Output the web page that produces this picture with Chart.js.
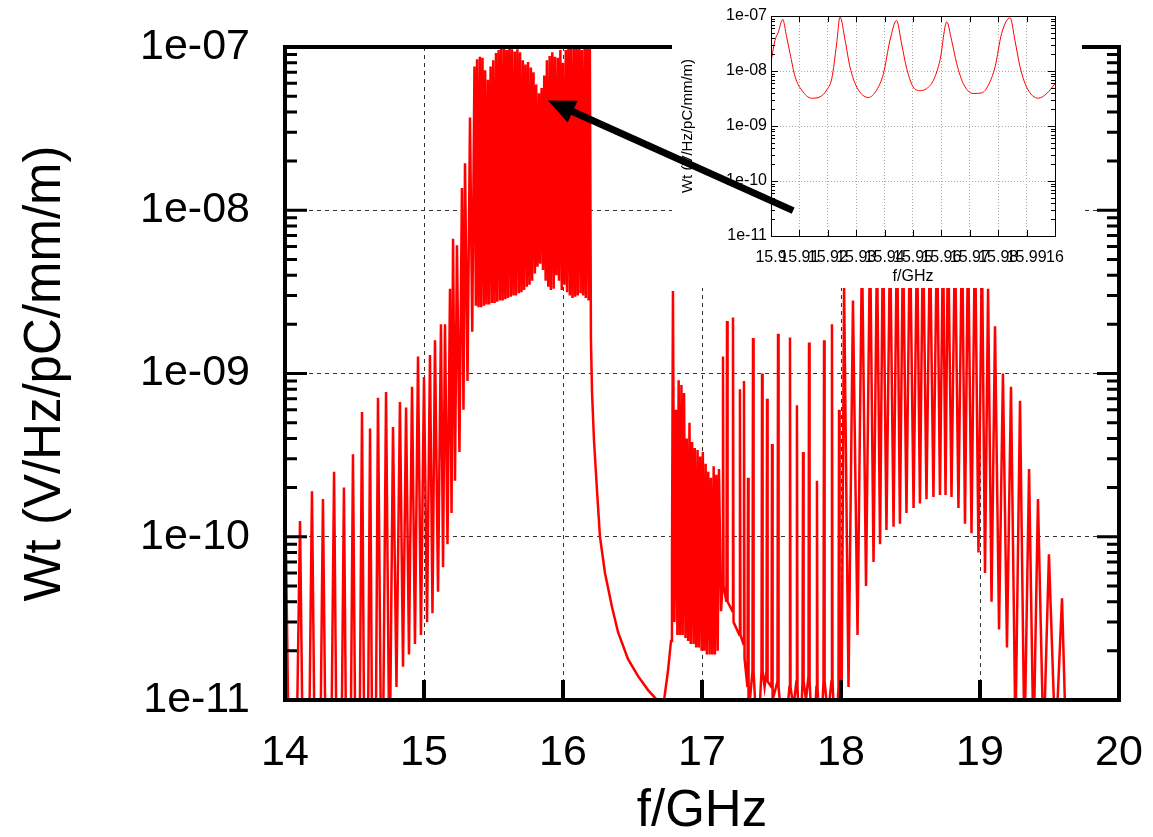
<!DOCTYPE html>
<html>
<head>
<meta charset="utf-8">
<script src="https://cdn.jsdelivr.net/npm/chart.js@4.4.1/dist/chart.umd.min.js"></script>
<style>
  html, body { margin: 0; padding: 0; background: #fff; }
  #wrap { position: relative; width: 1153px; height: 837px; overflow: hidden; }
  canvas { position: absolute; }
</style>
</head>
<body>
<div id="wrap">
  <canvas id="main" width="1153" height="837" style="left:0;top:0"></canvas>
  <canvas id="inset" width="410" height="288" style="left:672px;top:0"></canvas>
  <canvas id="arrow" width="1153" height="837" style="left:0;top:0"></canvas>
</div>
<script>
// [f/GHz, Wt] vertices, one list per part of the spectrum
const lowBand = [
  [14.000, 2.3e-10], [14.054, 1e-13], [14.108, 1.25e-10], [14.151, 1e-13],
  [14.194, 1.9e-10], [14.234, 1e-13], [14.273, 1.7e-10], [14.313, 1e-13],
  [14.353, 2.5e-10], [14.388, 1e-13], [14.424, 2.0e-10], [14.457, 1e-13],
  [14.489, 3.2e-10], [14.522, 1e-13], [14.554, 5.8e-10], [14.583, 1e-13],
  [14.612, 4.6e-10], [14.640, 1e-13], [14.669, 7.1e-10], [14.698, 1e-12],
  [14.727, 7.7e-10], [14.752, 3e-12], [14.777, 4.7e-10], [14.802, 1.2e-11],
  [14.827, 6.7e-10], [14.849, 1.6e-11], [14.871, 6.2e-10], [14.892, 1.9e-11],
  [14.914, 8.3e-10], [14.935, 2.2e-11], [14.957, 1.27e-9], [14.978, 2.5e-11],
  [15.000, 9.5e-10], [15.022, 3e-11], [15.043, 1.3e-9], [15.061, 3.4e-11],
  [15.079, 1.6e-9], [15.101, 4.6e-11], [15.122, 2.0e-9], [15.137, 6.5e-11],
  [15.151, 2.0e-9], [15.169, 9e-11], [15.187, 3.3e-9], [15.198, 1.4e-10],
  [15.209, 6.7e-9], [15.223, 2.2e-10], [15.237, 6.1e-9], [15.255, 3.3e-10],
  [15.273, 1.37e-8], [15.284, 6e-10], [15.295, 1.94e-8], [15.313, 9e-10],
  [15.331, 3.7e-8], [15.347, 1.8e-9]
];
const mainBand = [
  [15.363, 7.6e-8], [15.373, 2.6e-9], [15.382, 8.4e-8], [15.392, 2.55e-9],
  [15.402, 8.7e-8], [15.411, 2.55e-9], [15.421, 8.6e-8], [15.431, 2.6e-9],
  [15.440, 7.2e-8], [15.450, 2.65e-9], [15.460, 6.3e-8], [15.469, 2.65e-9],
  [15.479, 7.6e-8], [15.489, 2.7e-9], [15.498, 8.3e-8], [15.508, 2.7e-9],
  [15.518, 9.2e-8], [15.527, 2.75e-9], [15.537, 9.6e-8], [15.547, 2.8e-9],
  [15.556, 1.05e-7], [15.566, 2.8e-9], [15.576, 1.1e-7], [15.585, 2.85e-9],
  [15.595, 9.6e-8], [15.604, 2.9e-9], [15.614, 1.1e-7], [15.624, 2.95e-9],
  [15.633, 9.7e-8], [15.643, 3.0e-9], [15.653, 9.4e-8], [15.662, 3.0e-9],
  [15.672, 9.7e-8], [15.682, 3.1e-9], [15.691, 9.3e-8], [15.701, 3.15e-9],
  [15.711, 8.3e-8], [15.720, 3.25e-9], [15.730, 7.8e-8], [15.740, 3.4e-9],
  [15.749, 8.1e-8], [15.759, 3.5e-9], [15.769, 7.5e-8], [15.778, 3.7e-9],
  [15.788, 7.0e-8], [15.798, 4.1e-9], [15.807, 5.9e-8], [15.817, 4.5e-9],
  [15.827, 5.2e-8], [15.836, 4.7e-9], [15.846, 5.6e-8], [15.856, 4.3e-9],
  [15.865, 6.7e-8], [15.875, 3.7e-9], [15.884, 8.3e-8], [15.894, 3.4e-9],
  [15.904, 8.8e-8], [15.913, 3.25e-9], [15.923, 9.3e-8], [15.933, 3.3e-9],
  [15.942, 8.7e-8], [15.952, 4.0e-9], [15.962, 8.6e-8], [15.971, 3.7e-9],
  [15.981, 9.6e-8], [15.991, 3.25e-9], [16.000, 8.0e-8], [16.010, 3.5e-9],
  [16.020, 9.6e-8], [16.029, 3.15e-9], [16.039, 1.1e-7], [16.049, 3.0e-9],
  [16.058, 1.05e-7], [16.068, 2.9e-9], [16.078, 1.1e-7], [16.087, 2.95e-9],
  [16.097, 1.05e-7], [16.106, 3.0e-9], [16.116, 1.1e-7], [16.126, 3.1e-9],
  [16.135, 9.6e-8], [16.145, 3.0e-9], [16.155, 1.1e-7], [16.164, 2.9e-9],
  [16.174, 1.05e-7], [16.184, 2.8e-9], [16.193, 1.1e-7]
];
const decayBand = [
  [16.201, 1.6e-9], [16.209, 7.6e-10], [16.223, 3.9e-10], [16.245, 1.9e-10],
  [16.266, 1.0e-10], [16.302, 6.0e-11], [16.353, 3.7e-11], [16.396, 2.6e-11],
  [16.468, 1.78e-11], [16.540, 1.4e-11], [16.612, 1.15e-11], [16.676, 1.0e-11],
  [16.712, 8e-12], [16.755, 1.5e-11], [16.777, 2.3e-11], [16.784, 6.5e-11],
  [16.791, 3.2e-9], [16.802, 3e-11]
];
const midBand = [
  [16.813, 6e-10], [16.823, 2.5e-11], [16.832, 9.1e-10], [16.842, 2.5e-11],
  [16.852, 8.5e-10], [16.861, 2.5e-11], [16.871, 7.6e-10], [16.881, 2.4e-11],
  [16.890, 4.0e-10], [16.900, 2.3e-11], [16.910, 5.0e-10], [16.919, 2.2e-11],
  [16.929, 3.8e-10], [16.939, 2.2e-11], [16.948, 3.5e-10], [16.958, 2.1e-11],
  [16.968, 3.4e-10], [16.977, 2.1e-11], [16.987, 3.1e-10], [16.997, 2.0e-11],
  [17.006, 3.3e-10], [17.016, 2.0e-11], [17.026, 2.8e-10], [17.035, 1.9e-11],
  [17.045, 2.5e-10], [17.055, 1.9e-11], [17.064, 2.3e-10], [17.074, 1.9e-11],
  [17.084, 2.7e-10], [17.093, 1.9e-11], [17.103, 2.4e-10], [17.113, 2.0e-11],
  [17.122, 2.6e-10], [17.137, 3.5e-11]
];
const sparseBand = [
  [17.147, 5e-11], [17.151, 1.27e-9], [17.155, 5e-11],
  [17.176, 4e-11], [17.180, 2.1e-9], [17.184, 4e-11],
  [17.219, 3.5e-11], [17.223, 2.2e-9], [17.227, 3e-11],
  [17.269, 2.5e-11], [17.273, 8e-10], [17.277, 2.5e-11],
  [17.298, 2.2e-11], [17.302, 9e-10], [17.306, 1.8e-11],
  [17.327, 1.2e-11], [17.331, 2.3e-10], [17.335, 8e-12],
  [17.363, 1.5e-11], [17.367, 1.65e-9], [17.371, 1.5e-11],
  [17.400, 5e-12],
  [17.428, 1.5e-11], [17.432, 1.0e-9], [17.436, 1.5e-11],
  [17.450, 1.2e-11],
  [17.464, 1.5e-11], [17.468, 7e-10], [17.472, 1.3e-11],
  [17.500, 1.2e-11], [17.504, 3.7e-10], [17.508, 1e-11],
  [17.543, 1.3e-11], [17.547, 1.75e-9], [17.551, 1.2e-11],
  [17.590, 5e-12],
  [17.629, 1.2e-11], [17.633, 1.66e-9], [17.637, 1.2e-11],
  [17.658, 9e-12],
  [17.679, 1.3e-11], [17.683, 6.4e-10], [17.687, 1.2e-11],
  [17.705, 5e-12],
  [17.723, 1.3e-11], [17.727, 3.3e-10], [17.731, 1.3e-11],
  [17.748, 1e-11],
  [17.766, 1.4e-11], [17.770, 1.55e-9], [17.774, 1.3e-11],
  [17.799, 5e-12],
  [17.823, 1.2e-11], [17.827, 2.2e-10], [17.831, 1.2e-11],
  [17.853, 5e-12],
  [17.874, 1.3e-11], [17.878, 1.6e-9], [17.882, 1.3e-11],
  [17.906, 8e-12],
  [17.931, 1.3e-11], [17.935, 2.0e-9], [17.939, 1.3e-11],
  [17.960, 5e-12],
  [17.982, 1.2e-11], [17.986, 6e-10], [17.990, 1.2e-11],
  [18.004, 8e-12]
];
const highBand = [
  [18.022, 3.5e-9], [18.054, 1.2e-11], [18.086, 2.8e-9], [18.119, 2.5e-11],
  [18.151, 6e-9], [18.180, 5e-11], [18.209, 7e-9], [18.234, 7e-11],
  [18.259, 6e-9], [18.281, 9e-11], [18.302, 8e-9], [18.327, 1.1e-10],
  [18.353, 7e-9], [18.378, 1.15e-10], [18.403, 8e-9], [18.424, 1.2e-10],
  [18.446, 7e-9], [18.471, 1.4e-10], [18.496, 8e-9], [18.522, 1.5e-10],
  [18.547, 7e-9], [18.568, 1.6e-10], [18.590, 8e-9], [18.615, 1.7e-10],
  [18.640, 7e-9], [18.665, 1.75e-10], [18.691, 8e-9], [18.712, 1.8e-10],
  [18.734, 7e-9], [18.752, 1.8e-10], [18.770, 8e-9], [18.795, 1.75e-10],
  [18.820, 7e-9], [18.845, 1.5e-10], [18.871, 8e-9], [18.892, 1.2e-10],
  [18.914, 7e-9], [18.939, 1.05e-10], [18.964, 8e-9], [18.989, 8e-11],
  [19.014, 6e-9], [19.036, 6e-11], [19.058, 3.3e-9], [19.083, 4e-11],
  [19.108, 1.95e-9], [19.137, 2.7e-11], [19.165, 1.0e-9], [19.194, 2.1e-11],
  [19.223, 8.3e-10], [19.255, 6e-12], [19.288, 6.8e-10], [19.320, 5e-12],
  [19.353, 2.6e-10], [19.385, 5e-12], [19.417, 1.7e-10], [19.457, 5e-12],
  [19.496, 7.8e-11], [19.543, 5e-12], [19.590, 4.2e-11], [19.620, 5e-12]
];

// zoom on 15.9 - 16 GHz
const insetCurve = [
  [15.9000, 1.46e-8], [15.9014, 3.6e-8], [15.9026, 5.1e-8], [15.9041, 8.7e-8],
  [15.9055, 4.2e-8], [15.9067, 2.1e-8], [15.9085, 7.8e-9], [15.9108, 4.5e-9],
  [15.9143, 3.2e-9], [15.9173, 3.4e-9], [15.9196, 4.5e-9], [15.9214, 7.3e-9],
  [15.9231, 3.1e-8], [15.9243, 9.6e-8], [15.9261, 3.6e-8], [15.9278, 1.19e-8],
  [15.9302, 5.1e-9], [15.9343, 3.3e-9], [15.9372, 4.5e-9], [15.9396, 9e-9],
  [15.9419, 3.6e-8], [15.9442, 8.3e-8], [15.9460, 3.1e-8], [15.9478, 1.1e-8],
  [15.9501, 5.1e-9], [15.9525, 4.4e-9], [15.9548, 4.8e-9], [15.9572, 6.8e-9],
  [15.9595, 1.57e-8], [15.9619, 7.8e-8], [15.9636, 3.6e-8], [15.9654, 1.36e-8],
  [15.9677, 5.9e-9], [15.9712, 3.9e-9], [15.9742, 4.0e-9], [15.9765, 5.5e-9],
  [15.9789, 1.19e-8], [15.9812, 4.8e-8], [15.9842, 9.3e-8], [15.9859, 3.6e-8],
  [15.9877, 1.19e-8], [15.9900, 5.1e-9], [15.9941, 3.2e-9], [15.9971, 3.9e-9],
  [16.0000, 5.9e-9]
];

const xTicks = [14, 15, 16, 17, 18, 19, 20];
const xTickLabels = ['14', '15', '16', '17', '18', '19', '20'];
const yTicks = [1e-11, 1e-10, 1e-9, 1e-8, 1e-7];
const yTickLabels = ['1e-11', '1e-10', '1e-09', '1e-08', '1e-07'];
const insetXTicks = [15.9, 15.91, 15.92, 15.93, 15.94, 15.95, 15.96, 15.97, 15.98, 15.99, 16];
const insetXTickLabels = ['15.9', '15.91', '15.92', '15.93', '15.94', '15.95', '15.96', '15.97', '15.98', '15.99', '16'];

// arrow from the inset down to the band it magnifies
const arrowTip = [15.892, 4.7e-8];
const arrowTail = [15.9078, 2.9e-11];

const FONT = "'Liberation Sans', Arial, Helvetica, sans-serif";

function toPoints(list) {
    return list.map(p => ({x: p[0], y: p[1]}));
}

const spectrum = [].concat(lowBand, mainBand, decayBand, midBand, sparseBand, highBand);

// frame and inward ticks of the big plot
const mainFrame = {
    id: 'mainFrame',
    afterDraw(chart) {
        const ctx = chart.ctx, a = chart.chartArea;
        const x = chart.scales.x, y = chart.scales.y;
        ctx.save();
        ctx.strokeStyle = '#000';
        ctx.lineWidth = 3;
        ctx.beginPath();
        for (let d = -11; d < -7; d++) {
            for (let m = 1; m <= 9; m++) {
                const py = y.getPixelForValue(m * Math.pow(10, d));
                const len = m === 1 ? 22 : 12;
                ctx.moveTo(a.left, py); ctx.lineTo(a.left + len, py);
                ctx.moveTo(a.right, py); ctx.lineTo(a.right - len, py);
            }
        }
        ctx.stroke();
        ctx.lineWidth = 4;
        ctx.beginPath();
        xTicks.forEach(v => {
            const px = x.getPixelForValue(v);
            ctx.moveTo(px, a.bottom); ctx.lineTo(px, a.bottom - 20);
        });
        ctx.stroke();
        ctx.strokeRect(a.left, a.top, a.right - a.left, a.bottom - a.top);
        ctx.restore();
    }
};

// white card, frame and ticks of the inset
const insetFrame = {
    id: 'insetFrame',
    beforeDraw(chart) {
        const ctx = chart.ctx;
        ctx.save();
        ctx.fillStyle = '#fff';
        ctx.fillRect(0, 0, chart.width, chart.height);
        ctx.restore();
    },
    afterDraw(chart) {
        const ctx = chart.ctx, a = chart.chartArea;
        const x = chart.scales.x, y = chart.scales.y;
        ctx.save();
        ctx.strokeStyle = '#000';
        ctx.lineWidth = 1;
        ctx.beginPath();
        for (let d = -11; d < -7; d++) {
            for (let m = 1; m <= 9; m++) {
                const py = Math.round(y.getPixelForValue(m * Math.pow(10, d))) + 0.5;
                const len = m === 1 ? 7 : 4;
                ctx.moveTo(a.left, py); ctx.lineTo(a.left + len, py);
                ctx.moveTo(a.right, py); ctx.lineTo(a.right - len, py);
            }
        }
        insetXTicks.forEach(v => {
            const px = Math.round(x.getPixelForValue(v)) + 0.5;
            ctx.moveTo(px, a.bottom); ctx.lineTo(px, a.bottom - 6);
            ctx.moveTo(px, a.top); ctx.lineTo(px, a.top + 6);
        });
        ctx.stroke();
        ctx.strokeRect(Math.round(a.left) + 0.5, Math.round(a.top) + 0.5,
            Math.round(a.right - a.left), Math.round(a.bottom - a.top));
        ctx.restore();
    }
};

const mainChart = new Chart(document.getElementById('main'), {
    type: 'line',
    data: {
        datasets: [{
            data: toPoints(spectrum),
            borderColor: '#ff0000',
            borderWidth: 2.5,
            pointRadius: 0,
            tension: 0,
            clip: 0
        }]
    },
    options: {
        responsive: false,
        animation: false,
        devicePixelRatio: 1,
        parsing: false,
        layout: {padding: {left: 0, top: 47, right: 34, bottom: 0}},
        plugins: {legend: {display: false}, tooltip: {enabled: false}},
        scales: {
            x: {
                type: 'linear',
                min: 14, max: 20,
                afterFit: s => { s.height = 137; s.paddingLeft = 0; s.paddingRight = 0; },
                afterBuildTicks: s => { s.ticks = xTicks.map(v => ({value: v})); },
                ticks: {
                    autoSkip: false, maxRotation: 0, padding: 27, color: '#000',
                    font: {family: FONT, size: 43},
                    callback: (v, i) => xTickLabels[i]
                },
                grid: {
                    drawTicks: false, lineWidth: 1,
                    color: c => (c.tick && (c.tick.value === 14 || c.tick.value === 20)) ? 'rgba(0,0,0,0)' : '#333'
                },
                border: {display: false, dash: [4, 4]},
                title: {
                    display: true, text: 'f/GHz', color: '#000',
                    font: {family: FONT, size: 51, lineHeight: 1.0},
                    padding: {top: 0, bottom: 0}
                }
            },
            y: {
                type: 'logarithmic',
                min: 1e-11, max: 1e-7,
                afterFit: s => { s.width = 285; s.paddingTop = 0; s.paddingBottom = 0; },
                afterBuildTicks: s => { s.ticks = yTicks.map(v => ({value: v})); },
                ticks: {
                    autoSkip: false, padding: 35, color: '#000',
                    font: {family: FONT, size: 43},
                    callback: (v, i) => yTickLabels[i]
                },
                grid: {
                    drawTicks: false, lineWidth: 1,
                    color: c => (c.tick && (c.tick.value === 1e-11 || c.tick.value === 1e-7)) ? 'rgba(0,0,0,0)' : '#333'
                },
                border: {display: false, dash: [4, 4]},
                title: {
                    display: true, text: 'Wt (V/Hz/pC/mm/m)', color: '#000',
                    font: {family: FONT, size: 51, lineHeight: 1.0},
                    padding: {top: 20, bottom: 0}
                }
            }
        }
    },
    plugins: [mainFrame]
});

const insetChart = new Chart(document.getElementById('inset'), {
    type: 'line',
    data: {
        datasets: [{
            data: toPoints(insetCurve),
            borderColor: '#ff0000',
            borderWidth: 1,
            pointRadius: 0,
            cubicInterpolationMode: 'monotone',
            clip: 0
        }]
    },
    options: {
        responsive: false,
        animation: false,
        devicePixelRatio: 1,
        parsing: false,
        layout: {padding: {left: 0, top: 16, right: 27, bottom: 0}},
        plugins: {legend: {display: false}, tooltip: {enabled: false}},
        scales: {
            x: {
                type: 'linear',
                min: 15.9, max: 16,
                afterFit: s => { s.height = 52; s.paddingLeft = 0; s.paddingRight = 0; },
                afterBuildTicks: s => { s.ticks = insetXTicks.map(v => ({value: v})); },
                ticks: {
                    autoSkip: false, maxRotation: 0, minRotation: 0, padding: 12, color: '#000',
                    font: {family: FONT, size: 16},
                    callback: (v, i) => insetXTickLabels[i]
                },
                grid: {drawTicks: false, lineWidth: 1, color: '#aaa'},
                border: {display: false, dash: [1, 2]},
                title: {
                    display: true, text: 'f/GHz', color: '#000',
                    font: {family: FONT, size: 16, lineHeight: 1.0},
                    padding: {top: 0, bottom: 3}
                }
            },
            y: {
                type: 'logarithmic',
                min: 1e-11, max: 1e-7,
                afterFit: s => { s.width = 99; s.paddingTop = 0; s.paddingBottom = 0; },
                afterBuildTicks: s => { s.ticks = yTicks.map(v => ({value: v})); },
                ticks: {
                    autoSkip: false, padding: 4, color: '#000',
                    font: {family: FONT, size: 16},
                    callback: (v, i) => yTickLabels[i]
                },
                grid: {drawTicks: false, lineWidth: 1, color: '#aaa'},
                border: {display: false, dash: [1, 2]},
                title: {
                    display: true, text: 'Wt (V/Hz/pC/mm/m)', color: '#000',
                    font: {family: FONT, size: 15, lineHeight: 1.0},
                    padding: {top: 8, bottom: 0}
                }
            }
        }
    },
    plugins: [insetFrame]
});

// the arrow sits over both plots
(function drawArrow() {
    const ctx = document.getElementById('arrow').getContext('2d');
    const insetLeft = 672;
    const tip = [mainChart.scales.x.getPixelForValue(arrowTip[0]), mainChart.scales.y.getPixelForValue(arrowTip[1])];
    const tail = [insetLeft + insetChart.scales.x.getPixelForValue(arrowTail[0]), insetChart.scales.y.getPixelForValue(arrowTail[1])];
    const dx = tip[0] - tail[0], dy = tip[1] - tail[1];
    const len = Math.sqrt(dx * dx + dy * dy);
    const ux = dx / len, uy = dy / len;
    const headLen = 27, headHalf = 12;
    const base = [tip[0] - ux * headLen, tip[1] - uy * headLen];
    ctx.strokeStyle = '#000';
    ctx.fillStyle = '#000';
    ctx.lineWidth = 7;
    ctx.beginPath();
    ctx.moveTo(tail[0], tail[1]);
    ctx.lineTo(base[0] + ux * 2, base[1] + uy * 2);
    ctx.stroke();
    ctx.beginPath();
    ctx.moveTo(tip[0], tip[1]);
    ctx.lineTo(base[0] - uy * headHalf, base[1] + ux * headHalf);
    ctx.lineTo(base[0] + uy * headHalf, base[1] - ux * headHalf);
    ctx.closePath();
    ctx.fill();
})();
</script>
</body>
</html>
